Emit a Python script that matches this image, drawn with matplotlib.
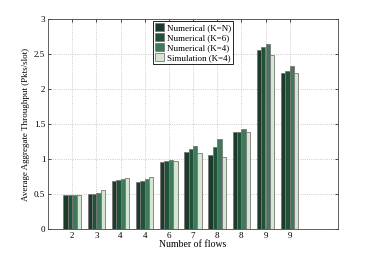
import numpy as np
import matplotlib
matplotlib.use("Agg")
import matplotlib.pyplot as plt

plt.rcParams['font.family'] = ['Liberation Serif', 'DejaVu Serif']

flow_labels = ["2", "3", "4", "4", "6", "7", "8", "8", "9", "9"]
num_kn = [0.48, 0.50, 0.69, 0.67, 0.96, 1.10, 1.06, 1.38, 2.56, 2.23]
num_k6 = [0.48, 0.50, 0.70, 0.68, 0.97, 1.15, 1.17, 1.39, 2.60, 2.26]
num_k4 = [0.48, 0.51, 0.72, 0.71, 0.99, 1.19, 1.28, 1.43, 2.64, 2.33]
sim_k4 = [0.49, 0.56, 0.73, 0.75, 0.97, 1.09, 1.03, 1.38, 2.48, 2.23]

series = [
    ("Numerical (K=N)", num_kn, "#1b3a2a"),
    ("Numerical (K=6)", num_k6, "#1f5238"),
    ("Numerical (K=4)", num_k4, "#3e7a5b"),
    ("Simulation (K=4)", sim_k4, "#d5e7d3"),
]

fig = plt.figure(figsize=(3.73, 2.57), dpi=100)
ax = fig.add_axes([48 / 373, 1 - 229 / 257, 290 / 373, 210 / 257])

x = np.arange(1, len(flow_labels) + 1)
w = 0.18
for i, (name, vals, col) in enumerate(series):
    ax.bar(x + (i - 1.5) * w, vals, w, color=col, edgecolor="#777777",
           linewidth=0.6, label=name, zorder=3)

ax.set_xlim(0, 12)
ax.set_ylim(0, 3)
ax.set_xticks(x)
ax.set_xticklabels(flow_labels)
ax.set_yticks(np.arange(0, 3.01, 0.5))
ax.set_yticklabels(["0", "0.5", "1", "1.5", "2", "2.5", "3"])
ax.grid(True, linestyle=":", color="#bbbbbb", linewidth=0.6, zorder=0)
ax.tick_params(direction="in", labelsize=6.5, length=2, width=0.5,
               top=True, right=True, pad=2)
for s in ax.spines.values():
    s.set_linewidth(0.6)
    s.set_color("#444444")

ax.set_xlabel("Number of flows", fontsize=7, labelpad=0)
ax.set_ylabel("Average Aggregate Throughput (Pkts/slot)", fontsize=6.5, labelpad=3)

leg = ax.legend(loc="upper center", fontsize=6.5, handlelength=1.1,
                handleheight=1.0, handletextpad=0.3, borderpad=0.2,
                labelspacing=0.1, fancybox=False, framealpha=1,
                borderaxespad=0.2)
leg.get_frame().set_edgecolor("black")
leg.get_frame().set_linewidth(0.6)

fig.savefig("out.png", dpi=100)
